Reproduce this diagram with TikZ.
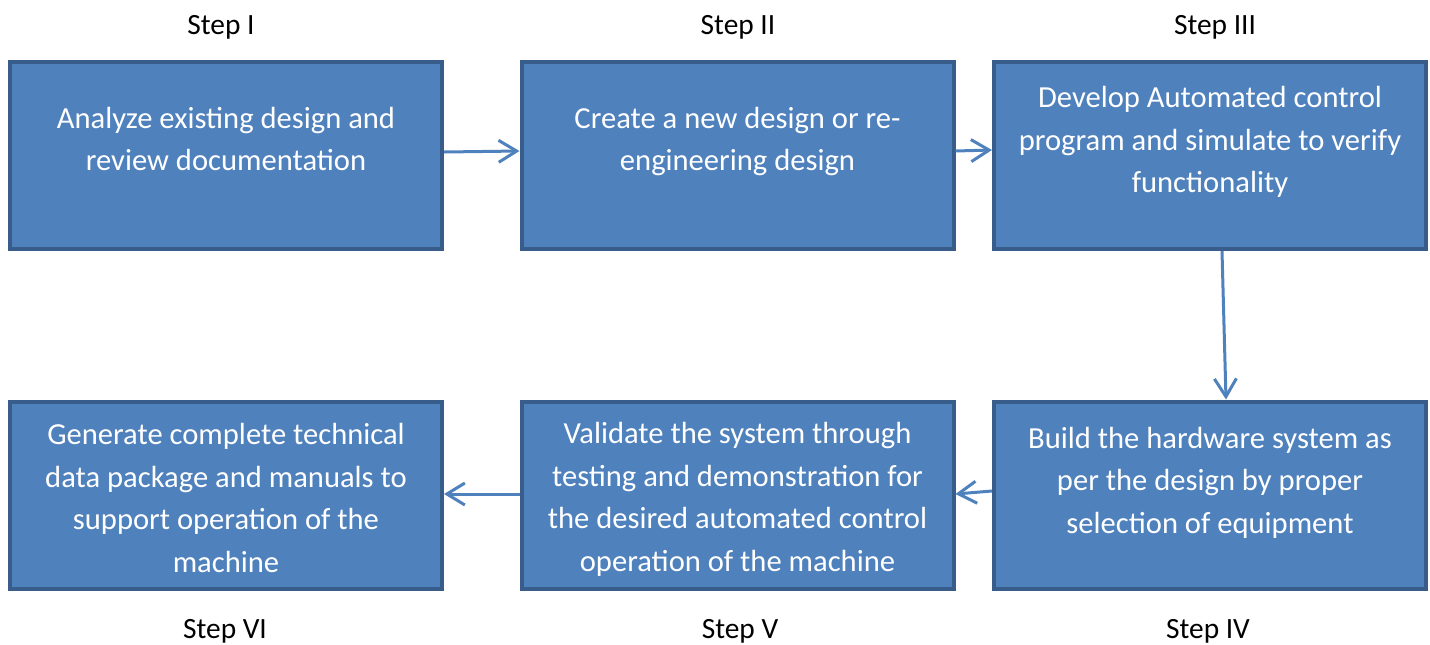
\documentclass[tikz,border=0pt]{standalone}
\usepackage{fontspec}
\setmainfont{Carlito}
\usetikzlibrary{arrows.meta}
\definecolor{boxfill}{HTML}{4F81BD}
\definecolor{boxline}{HTML}{385D8A}
\tikzset{
  stepbox/.style={draw=boxline, line width=2pt, fill=boxfill, minimum width=216pt, minimum height=93.5pt, inner sep=0pt},
  boxtext/.style={text=white, align=center, font=\fontsize{15.3pt}{21.3pt}\selectfont, inner sep=0pt, text depth=0pt},
  steplabel/.style={font=\fontsize{14.7pt}{17pt}\selectfont, inner sep=0pt},
  flow/.style={draw=boxfill, line width=1.5pt, -{Straight Barb[length=9pt,width=11pt,line width=1.5pt]}}
}
\begin{document}
\begin{tikzpicture}[x=0.5pt, y=-0.5pt]
\useasboundingbox (0,0) rectangle (1430,644);

% process boxes
\node[stepbox] (b1) at (226,155.5) {};
\node[stepbox] (b2) at (737.5,155.5) {};
\node[stepbox] (b3) at (1210,155.5) {};
\node[stepbox] (b4) at (1210,495) {};
\node[stepbox] (b5) at (737.5,495) {};
\node[stepbox] (b6) at (226,495) {};

% box texts
\node[boxtext] (t1) at (226,139) {Analyze existing design and\\review documentation};
\node[boxtext] (t2) at (737.5,139) {Create a new design or re-\\engineering design};
\node[boxtext] (t3) at (1210,139.5) {Develop Automated control\\program and simulate to verify\\functionality};
\node[boxtext] (t4) at (1210,480) {Build the hardware system as\\per the design by proper\\selection of equipment};
\node[boxtext] (t5) at (737.5,497) {Validate the system through\\testing and demonstration for\\the desired automated control\\operation of the machine};
\node[boxtext] (t6) at (226,498) {Generate complete technical\\data package and manuals to\\support operation of the\\machine};

% step labels
\node[steplabel] (s1) at (221,27) {Step I};
\node[steplabel] (s2) at (738,27) {Step II};
\node[steplabel] (s3) at (1215,27) {Step III};
\node[steplabel] (s4) at (1208,631) {Step IV};
\node[steplabel] (s5) at (740,631) {Step V};
\node[steplabel] (s6) at (225,631) {Step VI};

% connectors
\draw[flow] ([yshift=1.75pt]b1.east) -- ([yshift=2.25pt]b2.west);
\draw[flow] ([yshift=2.25pt]b2.east) -- ([yshift=2.75pt]b3.west);
\draw[flow] ([xshift=6pt]b3.south) -- ([xshift=8pt]b4.north);
\draw[flow] ([yshift=2pt]b4.west) -- ([yshift=0.5pt]b5.east);
\draw[flow] ([yshift=0.5pt]b5.west) -- ([yshift=0.5pt]b6.east);
\end{tikzpicture}
\end{document}
